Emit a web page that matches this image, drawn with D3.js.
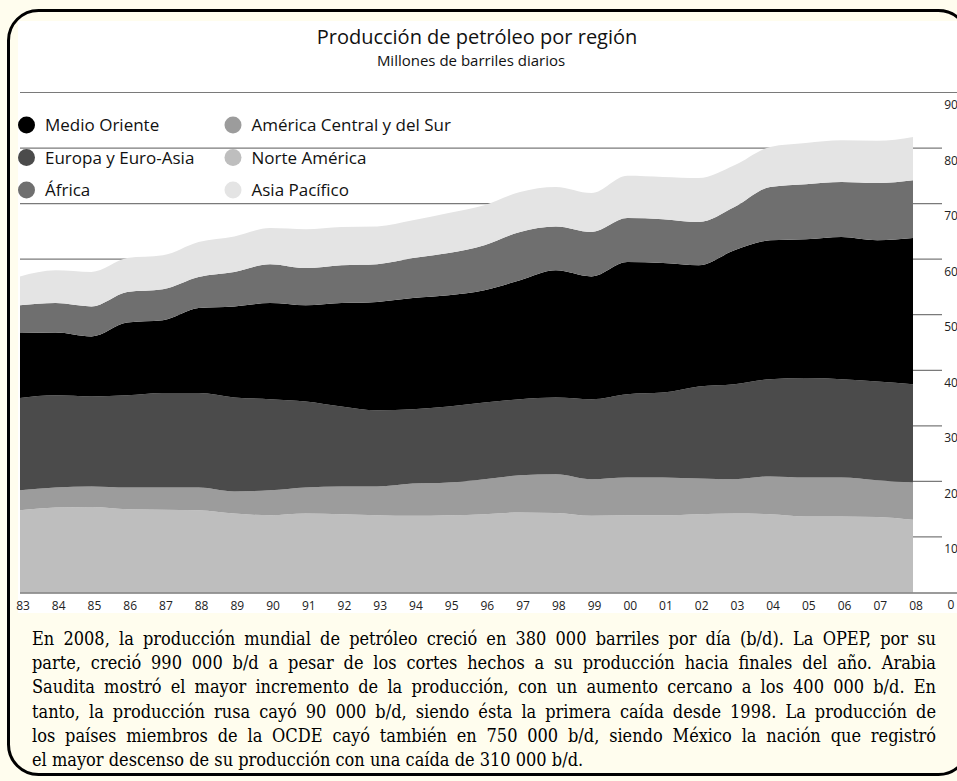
<!DOCTYPE html>
<html>
<head>
<meta charset="utf-8">
<script src="https://cdn.jsdelivr.net/npm/d3@7"></script>
<style>
  html, body { margin: 0; padding: 0; background: #fffdee; }
  svg { display: block; }
</style>
</head>
<body>
<svg id="chart" width="957" height="781"></svg>
<script>
// Millones de barriles diarios, 1983-2008
const years = [1983, 1984, 1985, 1986, 1987, 1988, 1989, 1990, 1991, 1992, 1993, 1994, 1995,
  1996, 1997, 1998, 1999, 2000, 2001, 2002, 2003, 2004, 2005, 2006, 2007, 2008]

const northAmerica = [14.8, 15.3, 15.4, 15.0, 14.9, 14.8, 14.2, 13.9, 14.2, 14.1, 13.9, 13.8, 13.9,
  14.1, 14.4, 14.3, 13.8, 13.9, 13.9, 14.1, 14.2, 14.1, 13.7, 13.7, 13.6, 13.1]
const centralSouth = [3.6, 3.6, 3.7, 3.9, 4.0, 4.1, 4.0, 4.5, 4.7, 5.0, 5.2, 5.8, 5.9,
  6.3, 6.7, 7.0, 6.6, 6.8, 6.8, 6.4, 6.2, 6.8, 7.0, 7.0, 6.6, 6.7]
const europeEurasia = [16.6, 16.6, 16.2, 16.6, 17.0, 17.0, 16.9, 16.4, 15.5, 14.4, 13.7, 13.4, 13.7,
  13.8, 13.7, 13.8, 14.4, 15.0, 15.3, 16.6, 17.1, 17.5, 17.9, 17.7, 17.8, 17.7]
const middleEast = [11.7, 11.3, 10.8, 13.1, 13.1, 15.3, 16.4, 17.3, 17.3, 18.6, 19.5, 20.0, 20.0,
  20.2, 21.4, 22.9, 22.1, 23.8, 23.3, 21.8, 24.1, 25.0, 25.0, 25.6, 25.4, 26.3]
const africa = [5.0, 5.3, 5.4, 5.5, 5.6, 5.6, 6.2, 7.0, 6.7, 6.8, 6.8, 7.2, 7.6,
  8.1, 8.7, 7.9, 8.0, 7.9, 7.9, 7.8, 7.8, 9.6, 9.9, 9.9, 10.3, 10.4]
const asiaPacific = [5.2, 5.9, 6.2, 6.1, 6.1, 6.3, 6.4, 6.5, 7.0, 6.9, 6.8, 6.8, 7.2,
  7.2, 7.2, 7.1, 7.0, 7.6, 7.6, 7.9, 7.5, 7.2, 7.4, 7.5, 7.6, 7.8]

// stacking order, bottom to top
const keys = ['Norte América', 'América Central y del Sur', 'Europa y Euro-Asia', 'Medio Oriente', 'África', 'Asia Pacífico']
const seriesValues = [northAmerica, centralSouth, europeEurasia, middleEast, africa, asiaPacific]
const legendOrder = ['Medio Oriente', 'Europa y Euro-Asia', 'África', 'América Central y del Sur', 'Norte América', 'Asia Pacífico']
const yTickValues = [0, 10, 20, 30, 40, 50, 60, 70, 80, 90]

const title = 'Producción de petróleo por región'
const subtitle = 'Millones de barriles diarios'
const paragraph = [
  'En 2008, la producción mundial de petróleo creció en 380 000 barriles por día (b/d). La OPEP, por su',
  'parte, creció 990 000 b/d a pesar de los cortes hechos a su producción hacia finales del año. Arabia',
  'Saudita mostró el mayor incremento de la producción, con un aumento cercano a los 400 000 b/d. En',
  'tanto, la producción rusa cayó 90 000 b/d, siendo ésta la primera caída desde 1998. La  producción de',
  'los países miembros de la OCDE cayó también en 750 000 b/d, siendo México la nación que registró',
  'el mayor descenso de su producción con una caída de 310 000 b/d.'
]

const colors = {
  'Medio Oriente': '#000000',
  'Europa y Euro-Asia': '#4b4b4b',
  'África': '#6f6f6f',
  'América Central y del Sur': '#9c9c9c',
  'Norte América': '#bebebe',
  'Asia Pacífico': '#e4e4e4'
}

const sans = "'Open Sans', 'Noto Sans', sans-serif"
const serif = "'DejaVu Serif Condensed', 'DejaVu Serif', serif"

const svg = d3.select('#chart')

// frame
svg.append('rect').attr('width', 957).attr('height', 781).attr('fill', '#fffdee')
svg.append('rect')
  .attr('x', 8.5).attr('y', 10.5)
  .attr('width', 960).attr('height', 764)
  .attr('rx', 30)
  .attr('fill', '#fffdee')
  .attr('stroke', '#000')
  .attr('stroke-width', 3)
svg.append('rect').attr('x', 18).attr('y', 21).attr('width', 939).attr('height', 592).attr('fill', '#fff')

// scales
const x = d3.scaleLinear().domain([1983, 2008]).range([20, 913])
const y = d3.scaleLinear().domain([0, 90]).range([592.5, 92.5])

// gridlines (behind the areas)
svg.append('g')
  .selectAll('line')
  .data(yTickValues.filter((d) => d > 0))
  .enter()
  .append('line')
  .attr('x1', 20)
  .attr('x2', (d) => (d === 90 ? 957 : 942))
  .attr('y1', (d) => y(d))
  .attr('y2', (d) => y(d))
  .attr('stroke', '#7a7a7a')
  .attr('stroke-width', 1.2)

// stacked areas
const table = years.map((yr, i) => {
  const row = { year: yr }
  keys.forEach((k, j) => (row[k] = seriesValues[j][i]))
  return row
})
const stacked = d3.stack().keys(keys)(table)
const area = d3
  .area()
  .x((d) => x(d.data.year))
  .y0((d) => y(d[0]))
  .y1((d) => y(d[1]))
  .curve(d3.curveMonotoneX)

svg.append('g')
  .selectAll('path')
  .data(stacked)
  .enter()
  .append('path')
  .attr('d', area)
  .attr('fill', (d) => colors[d.key])

// baseline
svg.append('line')
  .attr('x1', 20).attr('x2', 957)
  .attr('y1', y(0) + 0.5).attr('y2', y(0) + 0.5)
  .attr('stroke', '#7a7a7a')
  .attr('stroke-width', 1.5)

// x axis labels
svg.append('g')
  .attr('transform', 'translate(2.5,' + y(0) + ')')
  .call(d3.axisBottom(x).tickValues(years).tickFormat((d) => String(d).slice(2)).tickSize(0).tickPadding(9))
  .call((g) => g.select('.domain').remove())
  .selectAll('text')
  .attr('font-family', sans)
  .attr('font-size', 12)
  .attr('fill', '#222')

// right axis labels (sit under their gridline)
svg.append('g')
  .attr('transform', 'translate(951,0)')
  .call(d3.axisRight(y).tickValues(yTickValues).tickSize(0).tickPadding(0))
  .call((g) => g.select('.domain').remove())
  .selectAll('text')
  .attr('x', 0)
  .attr('dy', 16)
  .attr('text-anchor', 'middle')
  .attr('font-family', sans)
  .attr('font-size', 12)
  .attr('fill', '#222')

// title
svg.append('text')
  .attr('x', 477).attr('y', 44)
  .attr('text-anchor', 'middle')
  .attr('font-family', sans)
  .attr('font-size', 20)
  .attr('fill', '#111')
  .text(title)
svg.append('text')
  .attr('x', 471).attr('y', 66)
  .attr('text-anchor', 'middle')
  .attr('font-family', sans)
  .attr('font-size', 15)
  .attr('fill', '#111')
  .text(subtitle)

// legend
const legend = svg.append('g').attr('font-family', sans).attr('font-size', 17)
const item = legend
  .selectAll('g')
  .data(legendOrder)
  .enter()
  .append('g')
  .attr('transform', (d, i) => 'translate(' + (Math.floor(i / 3) * 206.5 + 26.5) + ',' + (125 + (i % 3) * 32.5) + ')')
item.append('circle').attr('r', 8.5).attr('fill', (d) => colors[d])
item.append('text')
  .attr('x', 18.5)
  .attr('dy', '0.36em')
  .attr('fill', '#111')
  .text((d) => d)

// justified paragraph
const para = svg.append('g').attr('font-family', serif).attr('font-size', 18).attr('fill', '#000')
const probe = para.append('text')
const measure = (s) => {
  probe.text(s)
  return probe.node().getComputedTextLength()
}
const spaceW = measure('a b') - measure('ab')
probe.remove()

const left = 32,
  right = 936
paragraph.forEach((line, i) => {
  const t = para.append('text').attr('y', 645 + i * 24.2)
  const words = line.split(' ').filter((w) => w)
  const spans = words.map((w) => t.append('tspan').text(w))
  const widths = spans.map((s) => s.node().getComputedTextLength())
  const gap = i === paragraph.length - 1 ? spaceW : (right - left - d3.sum(widths)) / (words.length - 1)
  let cx = left
  spans.forEach((s, j) => {
    s.attr('x', cx)
    cx += widths[j] + gap
  })
})
</script>
</body>
</html>
